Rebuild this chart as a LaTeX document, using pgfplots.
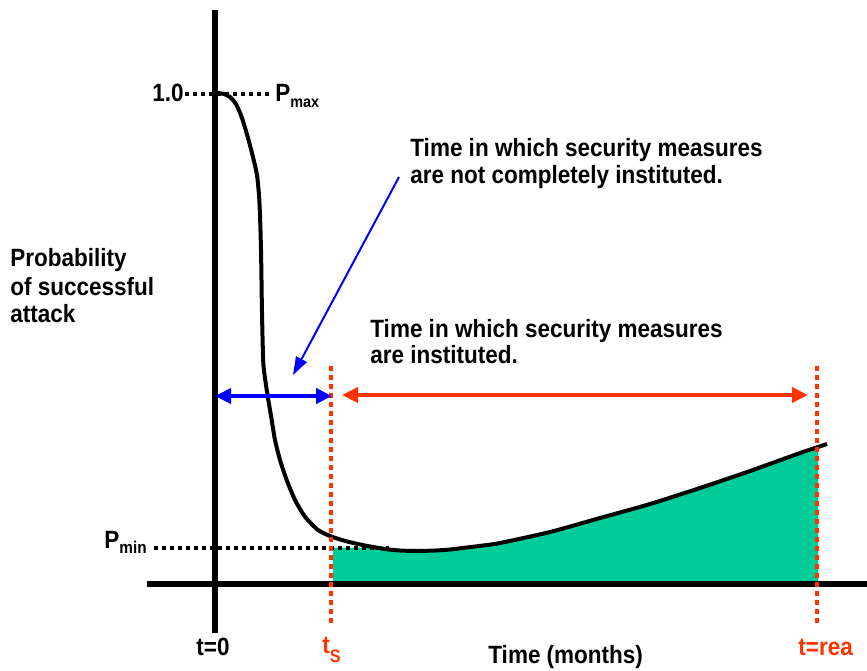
\documentclass[border=0pt]{standalone}
\usepackage{fontspec}
\setmainfont{Liberation Sans}[FakeStretch=0.9]
\usepackage{pgfplots}
\pgfplotsset{compat=1.18}
\usetikzlibrary{arrows.meta}
\definecolor{tealgreen}{HTML}{00CC99}
\definecolor{redor}{HTML}{FF3300}
\newcommand{\lbl}{\fontsize{12.5}{13.5}\selectfont\bfseries}
\begin{document}
\begin{tikzpicture}
\begin{axis}[
  name=main,
  scale only axis, width=433.5pt, height=335pt,
  xmin=0, xmax=867, ymin=0, ymax=670, y dir=reverse,
  hide axis, clip=false,
]
% green area
\addplot[fill=tealgreen, draw=none] coordinates {
 (333,583) (333,547.5) (367,547.5) (385,549) (400,550.5) (417,551) (435,550.5) (450,549.5)
 (483,545.5) (500,543) (550,532) (600,518) (650,504) (700,488) (750,471) (800,453) (818,447) (818,583)};
% axes
\addplot[black, line width=3pt] coordinates {(215,10) (215,633)};
\addplot[black, line width=3pt] coordinates {(147,584) (867,584)};
% dotted reference lines
\addplot[black, line width=2pt, dash pattern=on 2pt off 2pt] coordinates {(185,93.5) (272,93.5)};
\addplot[black, line width=2pt, dash pattern=on 2pt off 2pt] coordinates {(154,547.5) (389,547.5)};
% curve
\addplot[black, line width=2pt, smooth, tension=0.4] coordinates {
 (218,93) (224,94) (230,97) (236,104) (242,118) (248,138) (253,157) (257,175) (259,195) (260,215)
 (261,250) (261.5,280) (262,313) (263.3,363) (266,385) (268,398) (271.7,420) (275,440) (280,460)
 (286.7,480) (295,500) (305,516.7) (318,530) (331.7,536.7) (348,541.7) (365,545.5)
 (385,549) (400,550.5) (417,551) (435,550.5) (450,549.5) (483,545.5) (500,543) (550,532)
 (600,518) (650,504) (700,488) (750,471) (800,453) (818,447) (827,444)};
% red dotted verticals
\addplot[redor, line width=2pt, dash pattern=on 2.5pt off 2pt] coordinates {(331,366) (331,624)};
\addplot[redor, line width=2pt, dash pattern=on 2.5pt off 2pt] coordinates {(817,366) (817,624)};
% arrows
\addplot[blue, line width=2.2pt, {Triangle[length=8pt,width=7.5pt]}-{Triangle[length=8pt,width=7.5pt]}] coordinates {(215,396) (332,396)};
\addplot[redor, line width=2.2pt, {Triangle[length=8pt,width=7.5pt]}-{Triangle[length=8pt,width=7.5pt]}] coordinates {(342,395) (808,395)};
\addplot[blue, line width=1pt, -{Triangle[length=9pt,width=6pt]}] coordinates {(399,177) (293,375)};
% texts
\node[anchor=base west, inner sep=0pt] at (axis cs:410,156) {\lbl Time in which security measures};
\node[anchor=base west, inner sep=0pt] at (axis cs:410,183) {\lbl are not completely instituted.};
\node[anchor=base west, inner sep=0pt] at (axis cs:370,337) {\lbl Time in which security measures};
\node[anchor=base west, inner sep=0pt] at (axis cs:370,363) {\lbl are instituted.};
\node[anchor=base west, inner sep=0pt] at (axis cs:10,266) {\lbl Probability};
\node[anchor=base west, inner sep=0pt] at (axis cs:10,295) {\lbl of successful};
\node[anchor=base west, inner sep=0pt] at (axis cs:10,322) {\lbl attack};
\node[anchor=base west, inner sep=0pt] at (axis cs:152,101) {\lbl 1.0};
\node[anchor=base west, inner sep=0pt] at (axis cs:275,101.5) {\lbl P\raisebox{-3pt}{\fontsize{8}{9}\selectfont max}};
\node[anchor=base west, inner sep=0pt] at (axis cs:104,548) {\lbl P\raisebox{-2.5pt}{\fontsize{8.5}{9}\selectfont min}};
\node[anchor=base west, inner sep=0pt] at (axis cs:196,655) {\lbl t=0};
\node[anchor=base west, inner sep=0pt, text=redor] at (axis cs:322,653) {\lbl t\raisebox{-4.5pt}{\fontsize{9}{9}\selectfont S}};
\node[anchor=base west, inner sep=0pt, text=redor] at (axis cs:798,655) {\lbl t=rea};
\node[anchor=base west, inner sep=0pt] at (axis cs:488,663) {\lbl Time (months)};
\end{axis}
\pgfresetboundingbox
\path (main.south west) rectangle (main.north east);
\end{tikzpicture}
\end{document}
